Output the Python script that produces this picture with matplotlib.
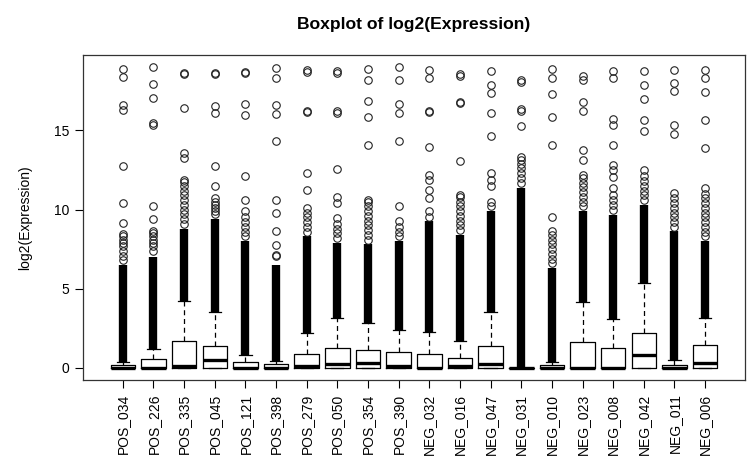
import matplotlib
matplotlib.use("Agg")
import matplotlib.pyplot as plt

plt.rcParams['font.family'] = ['Liberation Sans', 'DejaVu Sans']

# samples
labels = ["POS_034", "POS_226", "POS_335", "POS_045", "POS_121", "POS_398",
          "POS_279", "POS_050", "POS_354", "POS_390", "NEG_032", "NEG_016",
          "NEG_047", "NEG_031", "NEG_010", "NEG_023", "NEG_008", "NEG_042",
          "NEG_011", "NEG_006"]

# box statistics (log2 expression)
q1 = [0.0] * 20
med = [0.0, 0.0, 0.15, 0.52, 0.0, 0.0, 0.1, 0.25, 0.31, 0.15,
       0.0, 0.1, 0.25, 0.0, 0.0, 0.0, 0.0, 0.84, 0.0, 0.31]
q3 = [0.21, 0.59, 1.72, 1.41, 0.38, 0.25, 0.88, 1.26, 1.15, 0.98,
      0.88, 0.63, 1.41, 0.0, 0.17, 1.64, 1.26, 2.21, 0.2, 1.47]
whishi = [0.4, 1.22, 4.2, 3.53, 0.84, 0.46, 2.21, 3.15, 2.84, 2.42,
          2.24, 1.68, 3.51, 0.0, 0.4, 4.16, 3.09, 5.36, 0.48, 3.15]

# top of the solid run of overlapping outliers above each whisker
dense_top = [6.5, 7.0, 8.8, 9.4, 8.0, 6.52, 8.3, 7.9, 7.8, 8.0,
             9.25, 8.41, 9.88, 11.36, 6.31, 9.88, 9.67, 10.3, 8.62, 8.0]

# separate outlier circles above the solid run
fliers = [
    [6.8, 7.1, 7.4, 7.7, 7.9, 8.1, 8.3, 8.45, 9.15, 10.41, 12.78, 16.3, 16.6, 18.4, 18.88],
    [7.4, 7.7, 7.9, 8.1, 8.3, 8.5, 8.66, 9.4, 10.2, 15.35, 15.45, 17.07, 17.93, 18.99],
    [9.1, 9.4, 9.7, 10.0, 10.3, 10.6, 10.9, 11.2, 11.5, 11.75, 11.88, 13.25, 13.6, 16.44, 18.55, 18.65],
    [9.7, 9.9, 10.1, 10.3, 10.5, 10.76, 11.46, 12.72, 16.09, 16.55, 18.55, 18.65],
    [8.3, 8.6, 8.9, 9.2, 9.5, 9.88, 10.62, 12.15, 15.94, 16.68, 18.6, 18.7],
    [7.05, 7.15, 7.74, 8.62, 9.78, 10.62, 14.3, 16.02, 16.6, 18.3, 18.93],
    [8.6, 8.9, 9.2, 9.5, 9.8, 10.09, 11.25, 12.3, 16.15, 16.25, 18.67, 18.8],
    [8.2, 8.5, 8.8, 9.1, 9.46, 10.41, 10.8, 12.57, 16.1, 16.2, 18.65, 18.75],
    [8.1, 8.4, 8.7, 9.0, 9.3, 9.6, 9.9, 10.2, 10.5, 10.62, 14.05, 15.87, 16.88, 18.19, 18.88],
    [8.3, 8.6, 8.9, 9.25, 10.2, 14.34, 16.09, 16.65, 18.15, 18.97],
    [9.55, 9.88, 10.72, 11.25, 11.88, 12.2, 13.98, 16.15, 16.25, 18.33, 18.82],
    [8.7, 9.0, 9.3, 9.6, 9.9, 10.2, 10.5, 10.8, 10.93, 13.08, 16.7, 16.8, 18.45, 18.55],
    [10.2, 10.5, 11.46, 11.88, 12.3, 14.66, 16.12, 17.35, 17.84, 18.78],
    [11.7, 12.0, 12.3, 12.6, 12.9, 13.15, 13.35, 15.29, 16.2, 16.35, 18.05, 18.15],
    [6.6, 6.9, 7.2, 7.5, 7.8, 8.1, 8.4, 8.62, 9.53, 14.05, 15.83, 17.29, 18.3, 18.88],
    [10.2, 10.5, 10.8, 11.1, 11.4, 11.7, 12.0, 12.2, 13.14, 13.77, 16.25, 16.82, 18.19, 18.44],
    [10.0, 10.3, 10.6, 10.9, 11.36, 12.07, 12.49, 12.83, 14.09, 15.31, 15.71, 18.3, 18.78],
    [10.6, 10.9, 11.2, 11.5, 11.8, 12.1, 12.49, 14.97, 15.63, 17.01, 17.85, 18.78],
    [8.9, 9.2, 9.5, 9.8, 10.1, 10.4, 10.7, 11.04, 14.76, 15.35, 17.51, 17.97, 18.82],
    [8.3, 8.6, 8.9, 9.2, 9.5, 9.8, 10.1, 10.4, 10.7, 11.0, 11.36, 13.88, 15.63, 17.41, 18.3, 18.82],
]

stats = []
for i in range(len(labels)):
    stats.append(dict(label=labels[i], q1=q1[i], med=med[i], q3=q3[i],
                      whislo=q1[i], whishi=whishi[i], fliers=fliers[i]))

fig = plt.figure(figsize=(7.47, 4.62), dpi=100)
ax = fig.add_axes([0.1111, 0.1775, 0.8862, 0.7035])

pos = list(range(1, len(labels) + 1))

# solid runs of overlapping outlier circles
ax.vlines(pos, whishi, dense_top, color='black', lw=6.0, zorder=1)

ax.bxp(stats, positions=pos, widths=0.8, capwidths=0.4, showfliers=True,
       boxprops=dict(color='black', lw=0.9),
       whiskerprops=dict(color='black', lw=0.9, linestyle=(0, (4, 3))),
       capprops=dict(color='black', lw=0.9),
       medianprops=dict(color='black', lw=2.4, solid_capstyle='butt'),
       flierprops=dict(marker='o', markersize=5.4, markerfacecolor='none',
                       markeredgecolor='#222222', markeredgewidth=0.8),
       patch_artist=False)

ax.set_xlim(-0.3, 21.3)
ax.set_ylim(-0.76, 19.76)
ax.set_yticks([0, 5, 10, 15])
ax.set_xticks(pos)
ax.set_xticklabels(labels, rotation=90, fontsize=10)
ax.tick_params(axis='y', labelsize=10, length=5.8, pad=4)
ax.tick_params(axis='x', length=5.8, pad=4)
for s in ax.spines.values():
    s.set_color('#333333')
    s.set_linewidth(0.9)

ax.set_ylabel('log2(Expression)', fontsize=10, labelpad=16)
ax.set_title('Boxplot of log2(Expression)', fontsize=12.6, fontweight='bold', pad=19)

fig.savefig('out.png', dpi=100)
